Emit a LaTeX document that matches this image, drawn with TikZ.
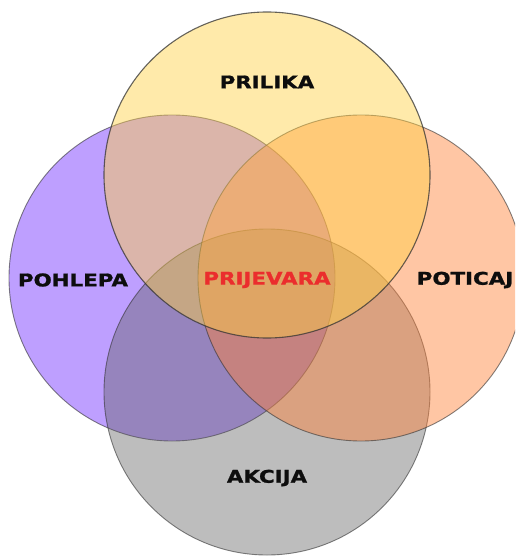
\documentclass[tikz,border=0pt]{standalone}
\usepackage{fontspec}
\setmainfont{DejaVu Sans}
\newfontfamily\lblfont[FakeStretch=1.22, BoldFeatures={FakeBold=1.2}]{DejaVu Sans}
\begin{document}
\begin{tikzpicture}[x=1pt,y=-1pt]
\definecolor{cPurple}{RGB}{127,65,255}
\definecolor{cGray}{RGB}{92,92,92}
\definecolor{cOrange}{RGB}{255,129,55}
\definecolor{cYellow}{RGB}{255,209,67}
\definecolor{cRed}{RGB}{235,45,45}
\definecolor{cEdge}{RGB}{50,50,50}
\tikzset{
  venn/.style={circle, inner sep=0pt, minimum size=326pt, draw=cEdge, draw opacity=0.6, line width=0.9pt},
  lbl/.style={font=\lblfont\bfseries\fontsize{17.5}{20}\selectfont, text=black!95, inner sep=0pt}
}
\useasboundingbox (0,0) rectangle (515,556);
\clip (0,0) rectangle (515,556);
\fill[white] (0,0) rectangle (515,556);
\node[venn, fill=cPurple, fill opacity=0.5] (greed) at (172,278) {};
\node[venn, fill=cGray, fill opacity=0.4] (action) at (267,392) {};
\node[venn, fill=cOrange, fill opacity=0.45] (incentive) at (361,278) {};
\node[venn, fill=cYellow, fill opacity=0.45, draw opacity=0.75, line width=1.1pt] (chance) at (267,175) {};
\node[lbl] (tPrilika) at (267,82) {PRILIKA};
\node[lbl] (tPohlepa) at (73,280) {POHLEPA};
\node[lbl] (tPoticaj) at (465,280) {POTICAJ};
\node[lbl] (tAkcija) at (267,478) {AKCIJA};
\node[lbl, text=cRed] (tPrijevara) at (267,280) {PRIJEVARA};
\end{tikzpicture}
\end{document}
